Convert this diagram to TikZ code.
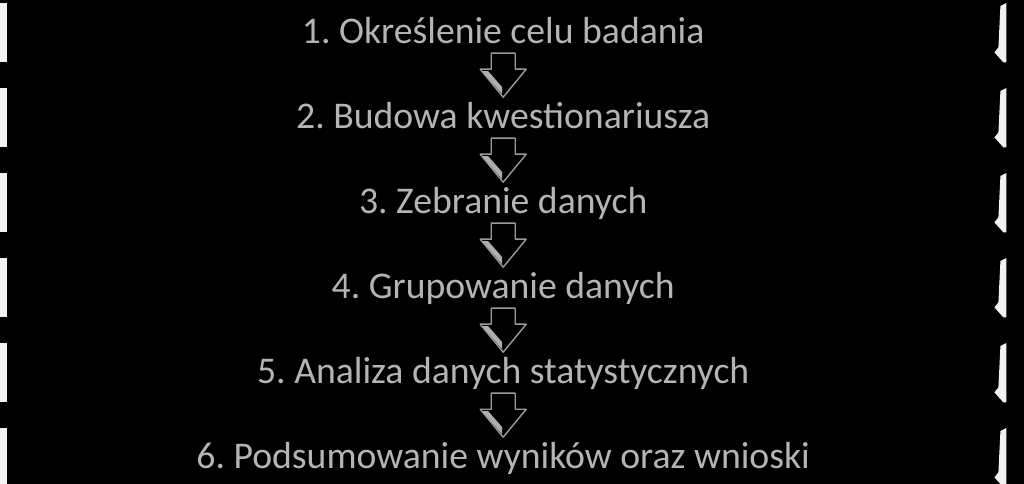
\documentclass[tikz,border=0pt]{standalone}
\usepackage{fontspec}
\setmainfont{Carlito}
\usetikzlibrary{calc}
\frenchspacing
\definecolor{embtext}{HTML}{B4B4B4}
\definecolor{embedge}{HTML}{F2F2F2}
\definecolor{embgray}{HTML}{9A9A9A}
\tikzset{
  stagebox/.style={rectangle, minimum width=1006bp, minimum height=59bp, inner sep=0pt, anchor=north west},
  stagetext/.style={anchor=base, inner sep=0pt, text=embtext, font=\fontsize{37.7bp}{40bp}\selectfont},
  edgebar/.style={fill=embedge, draw=none},
  flowarrow/.style={fill=black, draw=embgray, line width=1.4bp, line join=round},
  arrowface/.style={fill=embgray!80!white, draw=none}
}
\begin{document}
\begin{tikzpicture}[x=1bp,y=-1bp]
\fill[black] (0,0) rectangle (1024,484);
\useasboundingbox (0,0) rectangle (1024,484);
\foreach \i/\txt in {1/{1. Określenie celu badania},2/{2. Budowa kwestionariusza},3/{3. Zebranie danych},4/{4. Grupowanie danych},5/{5. Analiza danych statystycznych},6/{6. Podsumowanie wyników oraz wnioski}}{
  \node[stagebox] (b\i) at (0,{3+85*(\i-1)}) {};
  \fill[edgebar] (b\i.north west) rectangle ($(b\i.south west)+(7,0)$);
  \fill[edgebar] ($(b\i.north east)+(-6,3)$) -- ($(b\i.north east)+(0,0)$) -- ($(b\i.south east)+(0,0)$) -- ($(b\i.south east)+(-3,0)$) -- ($(b\i.south east)+(-12,-10)$) -- ($(b\i.south east)+(-8,-15)$) -- cycle;
  \node[stagetext] (t\i) at ($(b\i.center)+(0,10.5)$) {\frenchspacing\txt};
}
\foreach \i [evaluate=\i as \j using int(\i+1)] in {1,...,5}{
  \coordinate (m\i) at ($(b\i.south)!0.5!(b\j.north)$);
  \draw[flowarrow] ($(m\i)+(-12,-22)$) -- ($(m\i)+(12,-22)$) -- ($(m\i)+(12,-6)$) -- ($(m\i)+(23,-6)$) -- ($(m\i)+(0,22)$) -- ($(m\i)+(-23,-6)$) -- ($(m\i)+(-12,-6)$) -- cycle;
  \fill[arrowface] ($(m\i)+(-21,-4)$) -- ($(m\i)+(-1,19)$) -- ($(m\i)+(-1,12)$) -- ($(m\i)+(-15,-4)$) -- cycle;
}
\end{tikzpicture}
\end{document}
